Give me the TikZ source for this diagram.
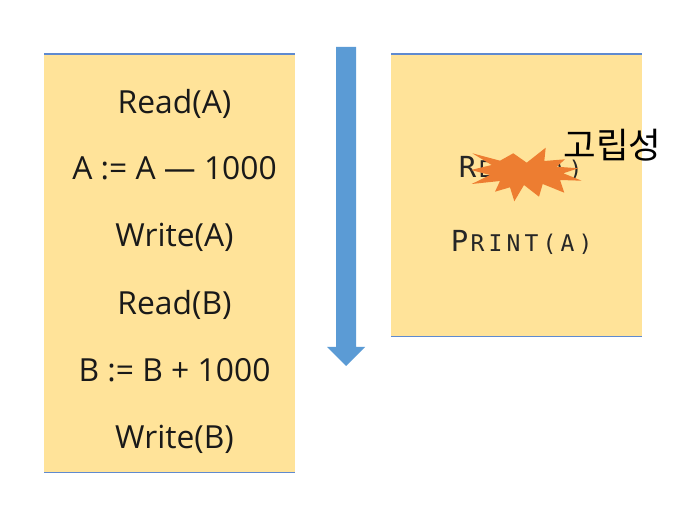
\documentclass[tikz,border=0pt]{standalone}
\usepackage{fontspec}
\setmainfont{Open Sans}
\newfontfamily\krfont{Noto Sans CJK KR}
\newfontfamily\capsfont{DejaVu Sans Mono}
\newcommand{\capbig}[1]{\makebox[18pt]{\fontsize{29}{29}\selectfont #1}}
\newcommand{\capsmall}[1]{\makebox[18pt]{\fontsize{23}{23}\selectfont #1}}
\definecolor{panelfill}{HTML}{FFE399}
\definecolor{edgeblue}{HTML}{5F8AD0}
\definecolor{arrowblue}{HTML}{5B9BD5}
\definecolor{burst}{HTML}{ED7D31}
\tikzset{
	x=1pt, y=1pt,
	panel/.style={fill=panelfill},
	edge/.style={color=edgeblue, line width=1.2pt},
	stmt/.style={font=\fontsize{31.8}{32}\selectfont, inner sep=0pt, text=black!90},
	capsline/.style={font=\capsfont, inner sep=0pt, text=black!85}
}
\begin{document}
\begin{tikzpicture}
	%%%%% page %%%%%
	\useasboundingbox (0, 0) rectangle (699, -526);
	
	%%%%% left panel %%%%%
	\fill[panel] (44, -54) rectangle (295, -472.5);
	\draw[edge] (44, -54) -- (295, -54);
	\draw[edge] (44, -472.5) -- (295, -472.5);
	
	\node[stmt] (readA) at (174.5, -104) {Read(A)};
	\node[stmt] (subA) at (174.5, -168) {A := A — 1000};
	\node[stmt] (writeA) at (174.5, -237.5) {Write(A)};
	\node[stmt] (readB) at (174.5, -305) {Read(B)};
	\node[stmt] (addB) at (174.5, -370) {B := B + 1000};
	\node[stmt] (writeB) at (174.5, -439) {Write(B)};
	
	%%%%% arrow %%%%%
	\fill[arrowblue] (336, -47) -- (356, -47) -- (356, -347) -- (365, -347) -- (346, -366) -- (327, -347) -- (336, -347) -- cycle;
	
	%%%%% right panel %%%%%
	\fill[panel] (391, -54) rectangle (642, -336.5);
	\draw[edge] (391, -54) -- (642, -54);
	\draw[edge] (391, -336.5) -- (642, -336.5);
	
	\node[capsline] (readR) at (521.5, -168) {\capbig{R}\capsmall{E}\capsmall{A}\capsmall{D}\capsmall{(}\capsmall{A}\capsmall{)}};
	\node[capsline] (printA) at (522.5, -242) {\capbig{P}\capsmall{R}\capsmall{I}\capsmall{N}\capsmall{T}\capsmall{(}\capsmall{A}\capsmall{)}};
	
	%%%%% burst %%%%%
	\fill[burst] (472.3, -153.3) -- (500, -160.7) -- (513.3, -153.3) -- (526.7, -162.7) -- (545.7, -147.7) -- (544.3, -161) -- (565, -159.3) -- (556.7, -166.7) -- (578.3, -168.3) -- (563.3, -173.3) -- (581.7, -180.7) -- (560, -180) -- (564.3, -192.7) -- (542.7, -184) -- (539, -196.7) -- (524, -185) -- (514.3, -201.3) -- (510, -187.3) -- (495, -191.7) -- (500, -181) -- (471.7, -184) -- (490, -175) -- (471, -170) -- (491.7, -165) -- cycle;
	
	\node[font=\krfont\fontsize{35.5}{36}\selectfont, inner sep=0pt, text=black] (isolation) at (612.5, -145) {고립성};
\end{tikzpicture}
\end{document}
